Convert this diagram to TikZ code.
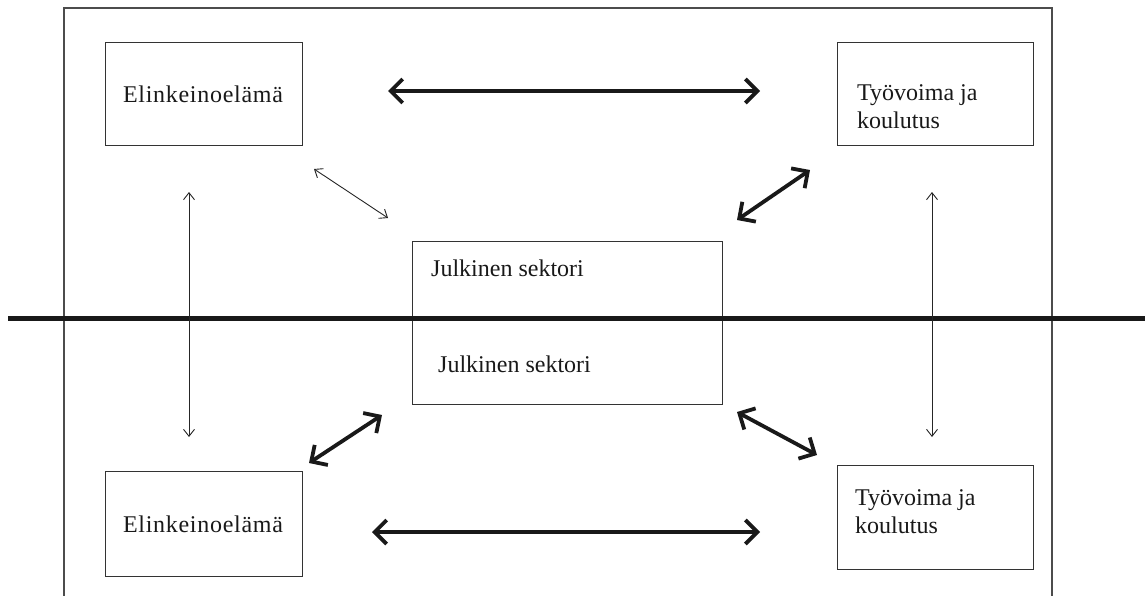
\documentclass[tikz,border=0pt]{standalone}
\usepackage{fontspec}
\setmainfont{Liberation Serif}
\usetikzlibrary{arrows.meta}
\tikzset{
  box/.style={draw=black!80, line width=1.1pt, inner sep=0pt, anchor=north west},
  lbl/.style={anchor=base west, inner sep=0pt, font=\fontsize{24}{28}\selectfont, text=black!90},
  lblc/.style={anchor=base, inner sep=0pt, font=\addfontfeature{LetterSpace=3}\fontsize{24}{28}\selectfont, text=black!90},
  thick arrow/.style={line width=3.8pt, black!90, {Straight Barb[length=12pt,width=24pt,line width=3.8pt]}-{Straight Barb[length=12pt,width=24pt,line width=3.8pt]}},
  thin arrow/.style={line width=0.9pt, black!85, {Straight Barb[length=7pt,width=11pt,line width=0.9pt]}-{Straight Barb[length=7pt,width=11pt,line width=0.9pt]}},
}
\begin{document}
\begin{tikzpicture}[x=1pt,y=-1pt]
\useasboundingbox (0,0) rectangle (1145,595);
% outer frame
\draw[black!70, line width=1.1pt] (64,600) -- (64,8) -- (1052,8) -- (1052,600);
% boxes
\node[box, minimum width=197pt, minimum height=103pt] (el1) at (105,42) {};
\node[box, minimum width=196pt, minimum height=103pt] (ty1) at (837,42) {};
\node[box, minimum width=310pt, minimum height=163pt] (js) at (412,241) {};
\node[box, minimum width=197pt, minimum height=105pt] (el2) at (105,471) {};
\node[box, minimum width=196pt, minimum height=104pt] (ty2) at (837,465) {};
% texts
\node[lblc] (t1) at (203,102) {Elinkeinoelämä};
\node[lbl] (t2) at (857,100) {Työvoima ja};
\node[lbl] (t3) at (857,128) {koulutus};
\node[lbl] (t4) at (431,276) {Julkinen sektori};
\node[lbl] (t5) at (438,372) {Julkinen sektori};
\node[lblc] (t6) at (203,532) {Elinkeinoelämä};
\node[lbl] (t7) at (855,505) {Työvoima ja};
\node[lbl] (t8) at (855,533) {koulutus};
% dividing line
\coordinate (hl1) at (8,318);
\coordinate (hl2) at (1145,318);
\draw[line width=5pt, black!90] (hl1) -- (hl2);
% arrow end points
\coordinate (a1) at (388,91);  \coordinate (a2) at (760,91);
\coordinate (b1) at (372,532); \coordinate (b2) at (760,532);
\coordinate (c1) at (314,169); \coordinate (c2) at (388,218);
\coordinate (d1) at (737,220); \coordinate (d2) at (810,170);
\coordinate (e1) at (309,463); \coordinate (e2) at (382,415);
\coordinate (f1) at (737,412); \coordinate (f2) at (817,455);
\coordinate (g1) at (189,192); \coordinate (g2) at (189,437);
\coordinate (h1) at (932,192); \coordinate (h2) at (932,437);
\draw[thick arrow] (a1) -- (a2);
\draw[thick arrow] (b1) -- (b2);
\draw[thin arrow] (c1) -- (c2);
\draw[thick arrow] (d1) -- (d2);
\draw[thick arrow] (e1) -- (e2);
\draw[thick arrow] (f1) -- (f2);
\draw[thin arrow] (g1) -- (g2);
\draw[thin arrow] (h1) -- (h2);
\end{tikzpicture}
\end{document}
